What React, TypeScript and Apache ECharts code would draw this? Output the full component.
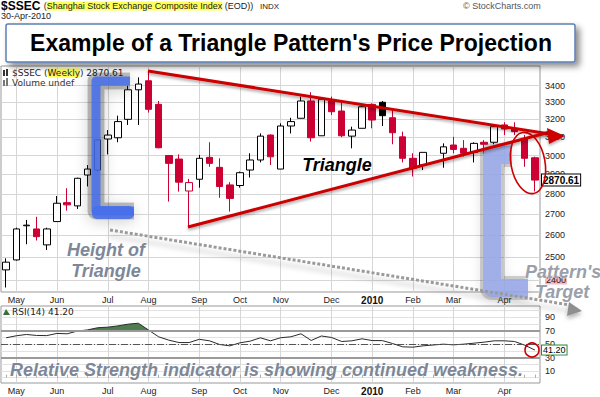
import React, { useEffect, useRef } from 'react';
import * as echarts from 'echarts';

// Weekly bars (week starting Monday)
const weeks = [
  '2009-04-27', '2009-05-04', '2009-05-11', '2009-05-18', '2009-05-25',
  '2009-06-01', '2009-06-08', '2009-06-15', '2009-06-22', '2009-06-29',
  '2009-07-06', '2009-07-13', '2009-07-20', '2009-07-27',
  '2009-08-03', '2009-08-10', '2009-08-17', '2009-08-24', '2009-08-31',
  '2009-09-07', '2009-09-14', '2009-09-21', '2009-09-28',
  '2009-10-05', '2009-10-12', '2009-10-19', '2009-10-26',
  '2009-11-02', '2009-11-09', '2009-11-16', '2009-11-23', '2009-11-30',
  '2009-12-07', '2009-12-14', '2009-12-21', '2009-12-28',
  '2010-01-04', '2010-01-11', '2010-01-18', '2010-01-25',
  '2010-02-01', '2010-02-08', '2010-02-15', '2010-02-22',
  '2010-03-01', '2010-03-08', '2010-03-15', '2010-03-22', '2010-03-29',
  '2010-04-05', '2010-04-12', '2010-04-19', '2010-04-26',
];

const opens = [2444, 2488, 2645, 2630, 2556, 2665, 2757, 2741, 2897, 2923, 3090, 3097, 3201, 3375, 3430, 3288, 3000, 2981, 2815, 2875, 2990, 2937, 2846, 2843, 2923, 2976, 3112, 2928, 3163, 3207, 3308, 3108, 3308, 3249, 3106, 3150, 3288, 3300, 3210, 3102, 2985, 2949, null, 3012, 3057, 3039, 3017, 3072, 3072, 3169, 3150, 3093, 2988];
const closes = [2478, 2630, 2648, 2594, 2630, 2754, 2746, 2880, 2928, 3085, 3112, 3188, 3375, 3410, 3259, 3042, 2958, 2860, 2858, 2985, 2958, 2838, 2778, 2909, 2976, 3106, 2993, 3163, 3188, 3308, 3097, 3318, 3245, 3108, 3140, 3274, 3197, 3222, 3125, 2985, 2932, 3017, null, 3047, 3033, 3012, 3066, 3061, 3159, 3146, 3131, 2985, 2870.61];
const lows = [2368, 2485, 2559, 2576, 2533, 2665, 2718, 2726, 2838, 2915, 3006, 3072, 3169, 3169, 3240, 3039, 2762, 2812, 2636, 2832, 2940, 2781, 2713, 2832, 2884, 2963, 2949, 2928, 3121, 3207, 3076, 3108, 3226, 3100, 3039, 3150, 3150, 3163, 3061, 2963, 2889, 2923, null, 2935, 3012, 2994, 2963, 3006, 3061, 3112, 3112, 2940, 2813];
const highs = [2495, 2636, 2673, 2688, 2636, 2790, 2829, 2883, 2949, 3088, 3140, 3222, 3400, 3451, 3490, 3308, 3003, 3006, 2877, 3003, 3072, 2985, 2860, 2915, 3012, 3121, 3116, 3178, 3210, 3334, 3360, 3318, 3334, 3314, 3159, 3282, 3294, 3308, 3264, 3131, 3012, 3017, null, 3066, 3102, 3084, 3072, 3084, 3169, 3184, 3184, 3112, 2994];

const rsi = [59.5, 62.5, 64.5, 63, 62.8, 66, 65.5, 69.5, 71.3, 74.5, 75.4, 77.3, 79.9, 81.3, 71.2, 61, 56, 52.4, 52.4, 57.3, 55, 49.5, 47.5, 52, 54.5, 59.5, 55, 59.6, 61, 65.5, 55.5, 62.2, 60, 54, 55, 58, 55.4, 55.3, 51, 46, 45.5, 47.5, null, 50, 49, 50, 51.5, 53, 55, 55, 54, 48.5, 41.2];

const priceTicks = [2400, 2500, 2600, 2700, 2800, 2900, 3000, 3100, 3200, 3300, 3400];
const rsiLabels = [10, 30, 50, 70, 90];
const rsiGrid = [0, 10, 20, 30, 40, 50, 60, 70, 80, 90, 100];
const monthNames = ['Jan', 'Feb', 'Mar', 'Apr', 'May', 'Jun', 'Jul', 'Aug', 'Sep', 'Oct', 'Nov', 'Dec'];
const lastClose = 2870.61;
const lastRsi = 41.2;

const RED = '#cc0033';
const FONT = '"Liberation Sans", Arial, sans-serif';
const VFONT = '"DejaVu Sans", Verdana, sans-serif';
const GRID = '#d6d6d6';

const isMonthStart = (i: number) => i > 0 && weeks[i].slice(5, 7) !== weeks[i - 1].slice(5, 7);
const monthLabel = (_v: string, i: number) => {
  const m = +weeks[i].slice(5, 7);
  return m === 1 ? '{y|' + weeks[i].slice(0, 4) + '}' : monthNames[m - 1];
};

function buildCandles() {
  let prev: number | null = null;
  return weeks.map((_, i) => {
    const o = opens[i], c = closes[i];
    if (o === null || c === null) return { value: ['-', '-', '-', '-'] };
    const pc = prev === null ? o : prev;
    prev = c;
    const edge = c < pc ? RED : '#000';
    const fill = c > o ? '#fff' : edge;
    return {
      value: [o, c, lows[i], highs[i]],
      itemStyle: { color: fill, color0: fill, borderColor: edge, borderColor0: edge, borderWidth: 1 },
    };
  });
}

function xAxisFor(gridIndex: number) {
  return {
    type: 'category',
    gridIndex,
    data: weeks,
    boundaryGap: true,
    axisLine: { show: false },
    axisTick: {
      show: gridIndex === 1, interval: 0, inside: true, length: 3, alignWithLabel: true,
      lineStyle: { color: '#aaa' },
    },
    axisLabel: {
      interval: (i: number) => isMonthStart(i),
      formatter: monthLabel,
      fontSize: 9, fontFamily: FONT, color: '#222', margin: 3,
      rich: { y: { fontSize: 10, fontWeight: 'bold', fontFamily: FONT, color: '#111' } },
    },
    splitLine: {
      show: true, interval: (i: number) => isMonthStart(i), alignWithLabel: true,
      lineStyle: { color: GRID, width: 1 },
    },
  };
}

const grayText = (text: string, x: number, y: number, align = 'left', fill = '#7d8797') => ({
  type: 'text', x, y, z: 60,
  style: {
    text, font: `italic bold 18px ${FONT}`, fill,
    align, textAlign: align, verticalAlign: 'middle', textVerticalAlign: 'middle',
    stroke: 'rgba(255,255,255,0.8)', lineWidth: 1,
    shadowBlur: 2, shadowColor: 'rgba(0,0,0,0.35)', shadowOffsetX: 1, shadowOffsetY: 1,
  },
});

function buildOption() {
  const rsiAbove = rsi.map((v) => (v === null ? '-' : Math.max(v, 70)));
  return {
    animation: false,
    backgroundColor: '#fff',
    grid: [
      { left: 1, top: 66, width: 539, height: 226, show: true, borderColor: '#999', borderWidth: 1, outerBoundsMode: 'none' },
      { left: 1, top: 306, width: 539, height: 77, show: true, borderColor: '#999', borderWidth: 1, outerBoundsMode: 'none' },
    ],
    xAxis: [xAxisFor(0), xAxisFor(1)],
    yAxis: [
      {
        type: 'log', logBase: 10, gridIndex: 0, position: 'right', min: 2349, max: 3522,
        axisLine: { show: false },
        axisTick: { show: false, customValues: priceTicks },
        axisLabel: {
          customValues: priceTicks, fontSize: 9, fontFamily: FONT, color: '#222', margin: 5,
          formatter: (v: number) => (Math.round(v) === 2400 ? '{p|2400}' : String(Math.round(v))),
          rich: { p: { backgroundColor: '#f7b8c0', fontSize: 9, fontFamily: FONT, color: '#222', padding: [0, 1] } },
        },
        splitLine: { show: true, lineStyle: { color: GRID } },
      },
      {
        type: 'value', gridIndex: 1, position: 'right', min: -8, max: 107,
        axisLine: { show: false },
        axisTick: { show: false, customValues: rsiGrid },
        axisLabel: { customValues: rsiLabels, fontSize: 9, fontFamily: FONT, color: '#222', margin: 5 },
        splitLine: { show: true, lineStyle: { color: '#e2e2e2' } },
      },
    ],
    series: [
      {
        type: 'candlestick', xAxisIndex: 0, yAxisIndex: 0, barWidth: 7,
        data: buildCandles(),
        markLine: {
          silent: true, symbol: ['none', 'none'],
          data: [{
            yAxis: lastClose,
            lineStyle: { color: 'rgba(0,0,0,0)', width: 0 },
            label: {
              position: 'end', distance: 2, formatter: lastClose.toFixed(2),
              fontSize: 10, fontWeight: 'bold', fontFamily: FONT, color: '#000',
              backgroundColor: '#fff', borderColor: '#000', borderWidth: 1, padding: [1, 1, 0, 1],
            },
          }],
        },
      },
      {
        type: 'line', xAxisIndex: 1, yAxisIndex: 1, data: rsiAbove, symbol: 'none',
        lineStyle: { width: 0, opacity: 0 }, connectNulls: true, z: 2,
        areaStyle: { origin: 70, color: '#4e7d4e', opacity: 1 },
      },
      {
        type: 'line', xAxisIndex: 1, yAxisIndex: 1, data: rsi, symbol: 'none', connectNulls: true, z: 3,
        lineStyle: { color: '#2a2a2a', width: 1 },
        markLine: {
          silent: true, symbol: ['none', 'none'],
          data: [
            { yAxis: 70, lineStyle: { color: '#9a9a9a', width: 2, type: 'solid' }, label: { show: false } },
            { yAxis: 30, lineStyle: { color: '#9a9a9a', width: 2, type: 'solid' }, label: { show: false } },
            { yAxis: 50, lineStyle: { color: '#555', width: 1, type: [7, 2, 1, 2] }, label: { show: false } },
            {
              yAxis: lastRsi,
              lineStyle: { color: 'rgba(0,0,0,0)', width: 0 },
              label: {
                position: 'end', distance: 2, formatter: lastRsi.toFixed(2),
                fontSize: 9, fontFamily: FONT, color: '#000',
                backgroundColor: '#fff', borderColor: '#2e8b2e', borderWidth: 1, padding: [0, 1],
              },
            },
          ],
        },
      },
    ],
    graphic: {
      elements: [
        // header
        {
          type: 'text', x: 1, y: 6, z: 60,
          style: {
            text: '{b|$SSEC} {n|(}{h|Shanghai Stock Exchange Composite Index}{n| (EOD))}  {s|INDX}',
            verticalAlign: 'middle', textVerticalAlign: 'middle',
            rich: {
              b: { font: `bold 12px ${FONT}`, fill: '#000', color: '#000' },
              n: { font: `9px ${FONT}`, fill: '#222', color: '#222' },
              h: { font: `9px ${FONT}`, fill: '#222', color: '#222', backgroundColor: '#ffff55' },
              s: { font: `8px ${FONT}`, fill: '#222', color: '#222' },
            },
          },
        },
        { type: 'text', x: 1, y: 16, z: 60, style: { text: '30-Apr-2010', font: `9px ${FONT}`, fill: '#222', verticalAlign: 'middle', textVerticalAlign: 'middle' } },
        { type: 'text', x: 463, y: 6, z: 60, style: { text: '\u00a9 StockCharts.com', font: `9px ${FONT}`, fill: '#555', verticalAlign: 'middle', textVerticalAlign: 'middle' } },
        // title box
        {
          type: 'rect', z: 55, shape: { x: 6, y: 24, width: 569, height: 38, r: 2 },
          style: { fill: '#fff', stroke: '#5b7fb5', lineWidth: 1.5, shadowBlur: 6, shadowColor: 'rgba(0,0,0,0.45)', shadowOffsetX: 4, shadowOffsetY: 4 },
        },
        {
          type: 'text', x: 291, y: 43, z: 56,
          style: { text: "Example of a Triangle Pattern's Price Projection", font: `bold 23px ${FONT}`, fill: '#000', align: 'center', textAlign: 'center', verticalAlign: 'middle', textVerticalAlign: 'middle' },
        },
        // panel legends
        { type: 'rect', z: 40, shape: { x: 3, y: 70, width: 2, height: 6 }, style: { fill: '#333' } },
        { type: 'rect', z: 40, shape: { x: 6, y: 69, width: 2, height: 7 }, style: { fill: '#333' } },
        {
          type: 'text', x: 12, y: 73, z: 40,
          style: {
            text: '$SSEC ({w|Weekly}) 2870.61', font: `9px ${VFONT}`, fill: '#222', verticalAlign: 'middle', textVerticalAlign: 'middle',
            rich: { w: { font: `9px ${VFONT}`, fill: '#222', color: '#222', backgroundColor: '#ffff55' } },
          },
        },
        { type: 'rect', z: 40, shape: { x: 3, y: 80, width: 2, height: 6 }, style: { fill: '#777' } },
        { type: 'rect', z: 40, shape: { x: 6, y: 78, width: 2, height: 8 }, style: { fill: '#777' } },
        { type: 'text', x: 12, y: 83, z: 40, style: { text: 'Volume undef', font: `9px ${VFONT}`, fill: '#333', verticalAlign: 'middle', textVerticalAlign: 'middle' } },
        { type: 'polygon', z: 40, shape: { points: [[3, 315], [6, 309], [10, 315]] }, style: { fill: '#3c6e3c' } },
        { type: 'text', x: 12, y: 312, z: 40, style: { text: 'RSI(14) 41.20', font: `9px ${VFONT}`, fill: '#222', verticalAlign: 'middle', textVerticalAlign: 'middle' } },
        // left blue bracket (shadow + stroke)
        {
          type: 'polyline', z: 48, shape: { points: [[130, 81], [96, 81], [96, 211], [134, 211]] },
          style: { fill: 'none', stroke: 'rgba(40,40,40,0.28)', lineWidth: 17, lineJoin: 'round', shadowBlur: 14, shadowColor: 'rgba(0,0,0,0.6)', shadowOffsetY: 3 },
        },
        {
          type: 'polyline', z: 49, shape: { points: [[130, 81], [96, 81], [96, 211], [134, 211]] },
          style: { fill: 'none', stroke: 'rgba(70,110,235,0.85)', lineWidth: 9, lineJoin: 'round' },
        },
        {
          type: 'rect', z: 49, shape: { x: 92, y: 206, width: 42, height: 13, r: 5 },
          style: { fill: 'rgba(70,110,235,0.85)' },
        },
        // right light-blue bracket
        {
          type: 'polyline', z: 48, shape: { points: [[512, 155], [492, 155], [492, 288], [528, 288]] },
          style: { fill: 'none', stroke: 'rgba(60,60,60,0.22)', lineWidth: 24, lineJoin: 'round', shadowBlur: 12, shadowColor: 'rgba(0,0,0,0.45)', shadowOffsetY: 3 },
        },
        {
          type: 'polyline', z: 49, shape: { points: [[512, 155], [492, 155], [492, 288], [528, 288]] },
          style: { fill: 'none', stroke: 'rgba(155,172,238,0.85)', lineWidth: 18, lineJoin: 'round' },
        },
        // dotted projection arrow
        {
          type: 'line', z: 50, shape: { x1: 110, y1: 230, x2: 570, y2: 305 },
          style: { stroke: '#9a9a9a', lineWidth: 3, lineDash: [3, 2], shadowBlur: 5, shadowColor: 'rgba(0,0,0,0.25)', shadowOffsetY: 6 },
        },
        {
          type: 'polygon', z: 50, shape: { points: [[582, 311], [567, 316], [569, 302]] },
          style: { fill: '#8f8f8f', shadowBlur: 4, shadowColor: 'rgba(0,0,0,0.3)', shadowOffsetY: 3 },
        },
        // triangle lines
        {
          type: 'line', z: 52, shape: { x1: 148, y1: 71, x2: 550, y2: 134 },
          style: { stroke: '#cc0000', lineWidth: 3, shadowBlur: 3, shadowColor: 'rgba(0,0,0,0.35)', shadowOffsetY: 2 },
        },
        {
          type: 'line', z: 52, shape: { x1: 188, y1: 227, x2: 550, y2: 132 },
          style: { stroke: '#cc0000', lineWidth: 3, shadowBlur: 3, shadowColor: 'rgba(0,0,0,0.35)', shadowOffsetY: 2 },
        },
        {
          type: 'polygon', z: 53, shape: { points: [[565, 136], [547, 128], [549, 144]] },
          style: { fill: '#cc0000', shadowBlur: 3, shadowColor: 'rgba(0,0,0,0.35)', shadowOffsetY: 2 },
        },
        // ellipse & circle
        {
          type: 'ellipse', z: 53, x: 528, y: 163, rotation: 0.18, shape: { cx: 0, cy: 0, rx: 17, ry: 31 },
          style: { fill: 'none', stroke: '#cc0000', lineWidth: 1.6 },
        },
        {
          type: 'circle', z: 53, shape: { cx: 532, cy: 350, r: 7 },
          style: { fill: 'none', stroke: '#cc0000', lineWidth: 1.6 },
        },
        // texts
        {
          type: 'text', x: 337, y: 165, z: 60,
          style: {
            text: 'Triangle', font: `italic bold 18px ${FONT}`, fill: '#000', align: 'center', textAlign: 'center',
            verticalAlign: 'middle', textVerticalAlign: 'middle', shadowBlur: 3, shadowColor: 'rgba(200,180,80,0.6)',
          },
        },
        grayText('Height of', 106, 250, 'center'),
        grayText('Triangle', 106, 271, 'center'),
        grayText("Pattern's", 525, 272, 'left', '#9aa0ab'),
        grayText('Target', 535, 292, 'left', '#9aa0ab'),
        grayText('Relative Strength indicator is showing continued weakness.', 10, 370),
      ],
    },
  };
}

export default function App() {
  const ref = useRef<HTMLDivElement>(null);
  useEffect(() => {
    if (!ref.current) return;
    const chart = echarts.init(ref.current, null, { renderer: 'svg', width: 600, height: 397 });
    chart.setOption(buildOption() as any);
    return () => chart.dispose();
  }, []);
  return (
    <div
      ref={ref}
      style={{ position: 'fixed', left: 0, top: 0, width: 600, height: 397, background: '#fff' }}
    />
  );
}
